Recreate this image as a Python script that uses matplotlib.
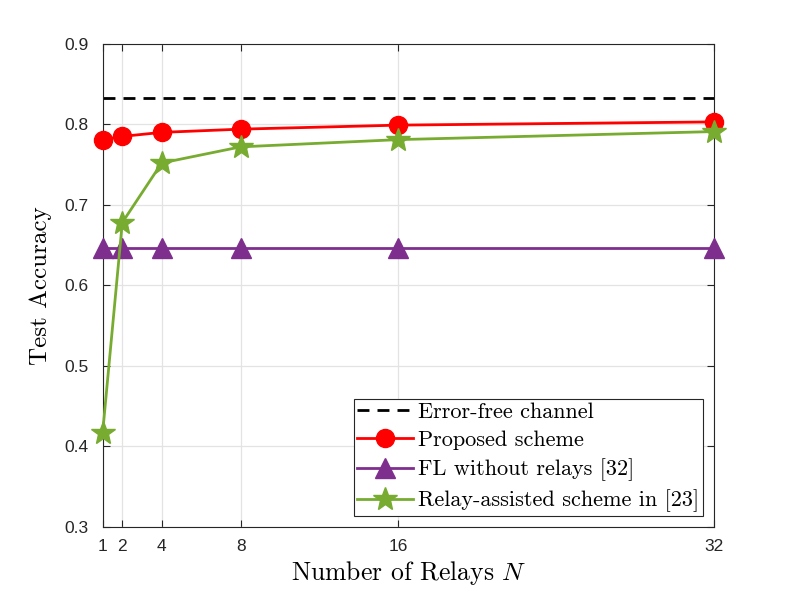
import matplotlib
matplotlib.use("Agg")
import matplotlib.pyplot as plt

relays = [1, 2, 4, 8, 16, 32]
error_free = 0.833
proposed = [0.781, 0.785, 0.790, 0.794, 0.799, 0.803]
no_relay = [0.646, 0.646, 0.646, 0.646, 0.646, 0.646]
relay_assisted = [0.416, 0.678, 0.752, 0.772, 0.781, 0.791]
yticks = [0.3, 0.4, 0.5, 0.6, 0.7, 0.8, 0.9]

plt.rcParams["mathtext.fontset"] = "cm"
plt.rcParams["axes.unicode_minus"] = False
tick_font = ["Liberation Sans", "DejaVu Sans"]
cm_font = ["cmr10", "DejaVu Serif"]

fig = plt.figure(figsize=(7.89, 5.92), dpi=100)
ax = fig.add_axes([0.130, 0.110, 0.775, 0.816])

ax.plot([relays[0], relays[-1]], [error_free, error_free], "--", color="black",
        lw=2.0, dashes=(4.3, 2.9), label="Error-free channel")
ax.plot(relays, proposed, "-o", color="red", lw=2.0, ms=13,
        label="Proposed scheme", clip_on=False, zorder=4)
ax.plot(relays, no_relay, "-^", color="#7E2F8E", lw=2.0, ms=14.5,
        label="FL without relays [32]", clip_on=False, zorder=3)
ax.plot(relays, relay_assisted, "-*", color="#77AC30", lw=2.0, ms=18,
        label="Relay-assisted scheme in [23]", clip_on=False, zorder=5)

ax.set_xlim(1, 32)
ax.set_ylim(0.3, 0.9)
ax.set_xticks(relays)
ax.set_yticks(yticks)
ax.set_xticklabels([str(r) for r in relays], fontfamily=tick_font, fontsize=12.5)
ax.set_yticklabels([f"{v:.1f}" for v in yticks], fontfamily=tick_font, fontsize=12.5)

ax.grid(True, color="#e3e3e3", lw=0.9)
ax.set_axisbelow(True)
ax.tick_params(direction="in", top=True, right=True, length=5, width=0.8,
               colors="#262626")
ax.tick_params(axis="x", pad=9)
ax.tick_params(axis="y", pad=10)
for sp in ax.spines.values():
    sp.set_color("#262626")
    sp.set_linewidth(0.8)

ax.set_xlabel("Number of Relays $N$", fontfamily=cm_font, fontsize=18.5, labelpad=3)
ax.set_ylabel("Test Accuracy", fontfamily=cm_font, fontsize=18, labelpad=9)

leg = ax.legend(loc="lower right", prop={"family": cm_font, "size": 16},
                fancybox=False, framealpha=1, edgecolor="#262626",
                borderaxespad=0.5, handlelength=2.5, handletextpad=0.25,
                labelspacing=0.38, borderpad=0.15)
leg.get_frame().set_linewidth(0.8)

fig.savefig("out.png", dpi=100, facecolor="white")
